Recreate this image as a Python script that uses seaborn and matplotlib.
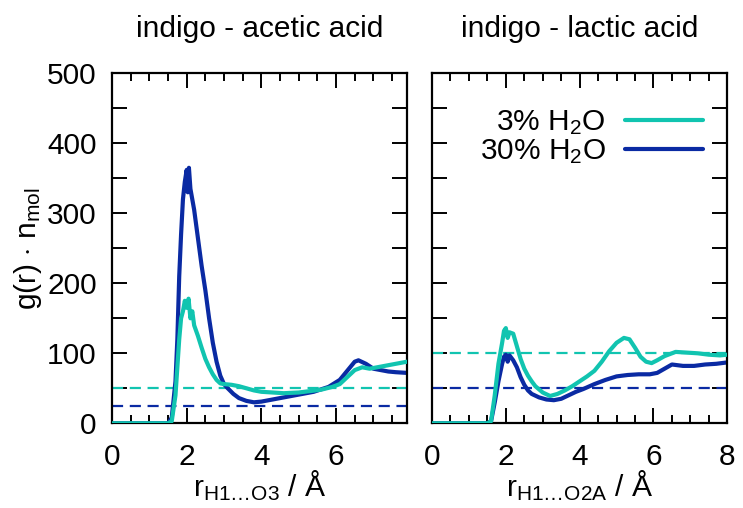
import numpy as np
import pandas as pd
import matplotlib
matplotlib.use("Agg")
import matplotlib.pyplot as plt
import seaborn as sns
from matplotlib.ticker import MultipleLocator

# ---------------- data ----------------
acetic_x_3 = [0, 1.5, 1.6, 1.7, 1.75, 1.8, 1.85, 1.9, 1.95, 2.0, 2.05, 2.1, 2.15, 2.2, 2.3, 2.4, 2.5,
              2.6, 2.7, 2.8, 2.9, 3.0, 3.2, 3.4, 3.6, 3.8, 4.0, 4.3, 4.6, 5.0, 5.3, 5.6, 5.9, 6.1,
              6.3, 6.5, 6.7, 6.9, 7.1, 7.3, 7.5, 7.7, 7.9]
acetic_y_3 = [0, 0, 3, 40, 80, 120, 150, 160, 175, 165, 178, 150, 160, 140, 125, 108, 92,
              80, 70, 62, 57, 56, 55, 53, 50, 47, 45, 44, 43, 44, 46, 48, 52, 56,
              66, 76, 80, 78, 80, 82, 84, 86, 88]

acetic_x_30 = [0, 1.5, 1.6, 1.7, 1.75, 1.8, 1.85, 1.9, 1.95, 2.0, 2.03, 2.06, 2.1, 2.15, 2.2, 2.3,
               2.4, 2.5, 2.6, 2.7, 2.8, 2.9, 3.0, 3.1, 3.25, 3.4, 3.6, 3.8, 4.0, 4.3, 4.6, 5.0,
               5.4, 5.8, 6.1, 6.3, 6.5, 6.6, 6.8, 7.0, 7.2, 7.4, 7.6, 7.9]
acetic_y_30 = [0, 0, 8, 60, 120, 210, 270, 320, 345, 362, 330, 365, 335, 320, 305, 265,
               225, 190, 150, 115, 88, 68, 56, 50, 42, 36, 32, 30, 31, 34, 37, 41,
               45, 52, 62, 75, 88, 90, 85, 78, 76, 74, 73, 72]

lactic_x_3 = [0, 1.5, 1.6, 1.7, 1.8, 1.9, 1.95, 2.0, 2.05, 2.1, 2.2, 2.3, 2.4, 2.5, 2.6, 2.7,
              2.8, 3.0, 3.2, 3.4, 3.6, 3.8, 4.0, 4.2, 4.4, 4.6, 4.8, 5.0, 5.2, 5.35, 5.5, 5.65,
              5.8, 5.95, 6.1, 6.3, 6.6, 6.9, 7.2, 7.5, 7.8, 8.0]
lactic_y_3 = [0, 0, 3, 40, 85, 115, 132, 136, 122, 130, 128, 110, 92, 78, 68, 60,
              53, 44, 39, 42, 47, 53, 60, 67, 75, 88, 103, 115, 122, 120, 108, 95,
              88, 86, 90, 96, 102, 101, 100, 98, 97, 98]

lactic_x_30 = [0, 1.5, 1.6, 1.7, 1.8, 1.9, 1.95, 2.0, 2.05, 2.1, 2.2, 2.3, 2.4, 2.5, 2.6, 2.7,
               2.9, 3.1, 3.3, 3.5, 3.7, 3.9, 4.1, 4.4, 4.7, 5.0, 5.3, 5.6, 5.9, 6.1, 6.3, 6.5,
               6.8, 7.1, 7.4, 7.7, 8.0]
lactic_y_30 = [0, 0, 3, 30, 60, 85, 95, 98, 88, 97, 90, 80, 66, 55, 47, 42,
               37, 34, 33, 35, 40, 45, 49, 56, 62, 67, 69, 70, 70, 72, 78, 84,
               82, 82, 84, 85, 87]

ref_acetic = [50, 25]   # dashed reference levels (3%, 30%)
ref_lactic = [100, 50]

titles = ["indigo - acetic acid", "indigo - lactic acid"]
series_labels = ["3% H$_2$O", "30% H$_2$O"]
xlabels = ["r$_{\\mathrm{H1\u2026O3}}$ / Å", "r$_{\\mathrm{H1\u2026O2A}}$ / Å"]
ylabel = r"g(r) $\cdot$ n$_{\mathrm{mol}}$"

# ---------------- style ----------------
sns.set_theme(style="ticks", rc={"text.color": "black", "axes.labelcolor": "black",
                                  "xtick.color": "black", "ytick.color": "black",
                                  "axes.edgecolor": "black"})
FAM = "Liberation Sans"
FS = 21.5
plt.rcParams["font.family"] = [FAM, "DejaVu Sans"]
plt.rcParams["mathtext.fontset"] = "custom"
plt.rcParams["mathtext.rm"] = FAM
plt.rcParams["mathtext.it"] = FAM + ":italic"
plt.rcParams["mathtext.bf"] = FAM + ":bold"

C3 = "#11c4b0"
C30 = "#0a2aa3"

fig = plt.figure(figsize=(7.43, 5.08), dpi=100)
ax1 = fig.add_axes([112 / 743, 1 - 423.3 / 508, 295 / 743, 350 / 508])
ax2 = fig.add_axes([432 / 743, 1 - 423.3 / 508, 295.3 / 743, 350 / 508])

panels = [
    (ax1, acetic_x_3, acetic_y_3, acetic_x_30, acetic_y_30, ref_acetic, 7.9),
    (ax2, lactic_x_3, lactic_y_3, lactic_x_30, lactic_y_30, ref_lactic, 8.0),
]

for i, (ax, x3, y3, x30, y30, refs, xmax) in enumerate(panels):
    ax.axhline(refs[0], color=C3, lw=1.6, ls=(0, (5, 3)), zorder=1)
    ax.axhline(refs[1], color=C30, lw=1.6, ls=(0, (5, 3)), zorder=1)
    d3 = pd.DataFrame({"r": x3, "g": y3})
    d30 = pd.DataFrame({"r": x30, "g": y30})
    sns.lineplot(data=d3, x="r", y="g", ax=ax, color=C3, lw=3.0,
                 label=series_labels[0], estimator=None, sort=False, zorder=3)
    sns.lineplot(data=d30, x="r", y="g", ax=ax, color=C30, lw=3.0,
                 label=series_labels[1], estimator=None, sort=False, zorder=2)
    ax.set_xlim(0, xmax)
    ax.set_ylim(0, 500)
    ax.xaxis.set_major_locator(MultipleLocator(2))
    ax.xaxis.set_minor_locator(MultipleLocator(0.5))
    ax.yaxis.set_major_locator(MultipleLocator(100))
    ax.yaxis.set_minor_locator(MultipleLocator(50))
    ax.tick_params(which="both", direction="in", top=True, right=True,
                   labelsize=FS, width=1.4, colors="black")
    ax.tick_params(axis="x", which="both", pad=14)
    ax.tick_params(axis="y", which="both", pad=11)
    ax.tick_params(axis="x", which="major", length=10.5)
    ax.tick_params(axis="x", which="minor", length=5.5)
    ax.tick_params(axis="y", which="both", length=10.5)
    for s in ax.spines.values():
        s.set_linewidth(1.6)
        s.set_color("black")
    ax.set_title(titles[i], fontsize=FS, pad=26, color="black")
    ax.set_xlabel(xlabels[i], fontsize=FS, labelpad=-2)
    if i == 0:
        ax.set_ylabel(ylabel, fontsize=FS, labelpad=2)
        ax.get_legend().remove()
    else:
        ax.set_ylabel("")
        ax.set_yticklabels([])
        leg = ax.legend(loc="upper right", bbox_to_anchor=(0.958, 0.934),
                        frameon=False, fontsize=FS,
                        markerfirst=False, handlelength=2.6, handletextpad=0.65,
                        labelspacing=0.0, borderaxespad=0.0, borderpad=0.4)
        for t in leg.get_texts():
            t.set_ha("right")

fig.savefig("out.png", dpi=100)
